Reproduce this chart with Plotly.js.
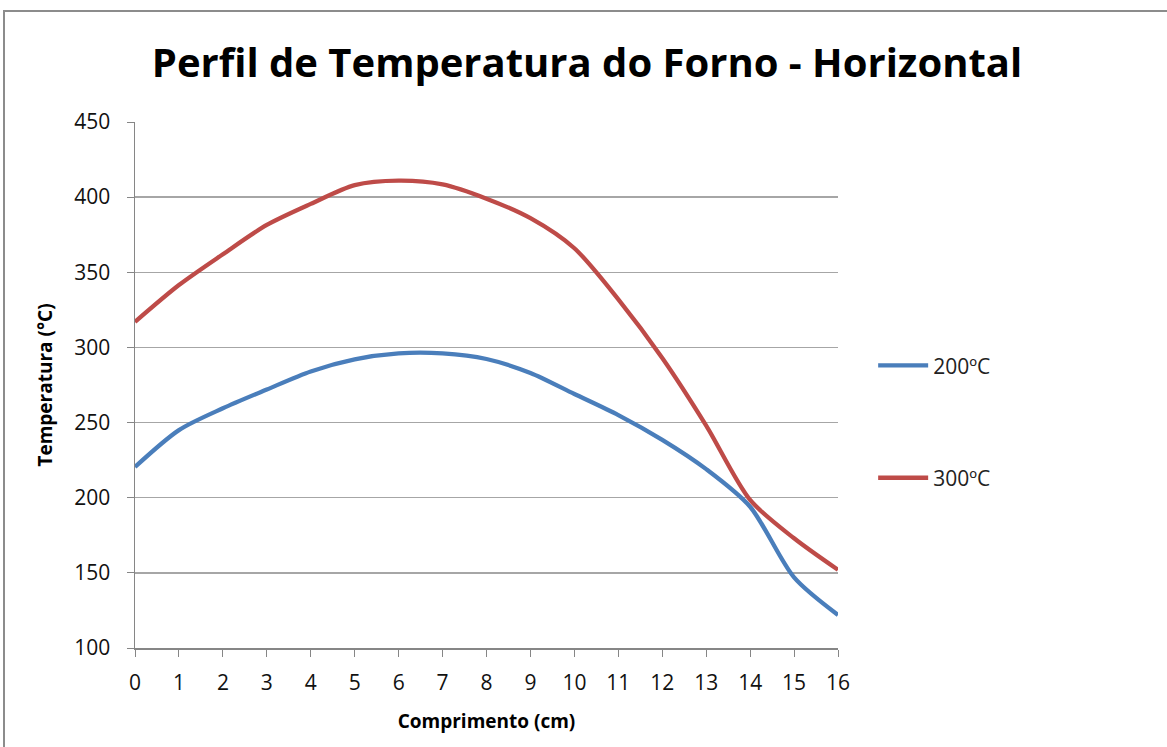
<!DOCTYPE html>
<html>
<head>
<meta charset="utf-8">
<script src="https://cdn.plot.ly/plotly-3.0.1.min.js"></script>
<style>
html,body{margin:0;padding:0;background:#fff;}
#wrap{position:relative;width:1167px;height:747px;overflow:hidden;}
#chart{position:absolute;left:0;top:0;width:1167px;height:747px;}
#frame{position:absolute;left:3px;top:10px;width:1200px;height:800px;border:2px solid #8c8c8c;pointer-events:none;}
</style>
</head>
<body>
<div id="wrap"><div id="chart"></div><div id="frame"></div></div>
<script>
const comprimento = [0,1,2,3,4,5,6,7,8,9,10,11,12,13,14,15,16];
const serie200 = [220.5,245,259.5,272,284,292,296,296,292.3,283,269,255,238.5,219,194,147,122];
const serie300 = [317,341.5,362,381.5,395.5,408,411,408.5,399,386,366,332,293,248,198.5,173,152];
const nomes = ['200ºC','300ºC'];
const cores = ['#4A7EBB','#BE4B48'];
const titulo = 'Perfil de Temperatura do Forno - Horizontal';
const tituloX = 'Comprimento (cm)';
const tituloY = 'Temperatura (°C)';

const baseFont = '"Open Sans", "Noto Sans", sans-serif';
const traces = [serie200, serie300].map((s,i)=>({
  x: comprimento, y: s, type:'scatter', mode:'lines', name: nomes[i],
  legendgroup: 'g'+i,
  line:{color:cores[i], width:4.3, shape:'spline', smoothing:0.8}
}));

const layout = {
  width:1167, height:747,
  margin:{l:135, r:329, t:122, b:99},
  paper_bgcolor:'#fff', plot_bgcolor:'#fff',
  title:{text:'<b>'+titulo+'</b>', x:0.503, xanchor:'center', y:0.915, yanchor:'middle',
         font:{family:baseFont, size:40, color:'#000'}},
  showlegend:true,
  legend:{x:1.05, xanchor:'left', y:0.43, yanchor:'middle', traceorder:'grouped',
          tracegroupgap:82, font:{family:baseFont, size:21, color:'#222'}, itemwidth:50,
          bgcolor:'rgba(0,0,0,0)'},
  xaxis:{range:[0,16], tickmode:'array', tickvals:comprimento, ticktext:comprimento.map(String),
         showgrid:false, zeroline:false, showline:true, linecolor:'#868686', linewidth:1.5,
         ticks:'outside', ticklen:7, tickcolor:'#868686', ticklabelstandoff:8,
         tickfont:{family:baseFont, size:21, color:'#111'},
         title:{text:'<b>'+tituloX+'</b>', font:{family:baseFont, size:19, color:'#000'}, standoff:20}},
  yaxis:{range:[100,450], tickmode:'linear', tick0:100, dtick:50,
         showgrid:true, gridcolor:'#a6a6a6', gridwidth:1.5, zeroline:false,
         showline:true, linecolor:'#868686', linewidth:1.5,
         ticks:'outside', ticklen:7, tickcolor:'#868686', ticklabelstandoff:12,
         tickfont:{family:baseFont, size:21, color:'#111'},
         title:{text:'<b>'+tituloY+'</b>', font:{family:baseFont, size:19, color:'#000'}, standoff:16}}
};
Plotly.newPlot('chart', traces, layout, {displayModeBar:false, staticPlot:true});
</script>
</body>
</html>
